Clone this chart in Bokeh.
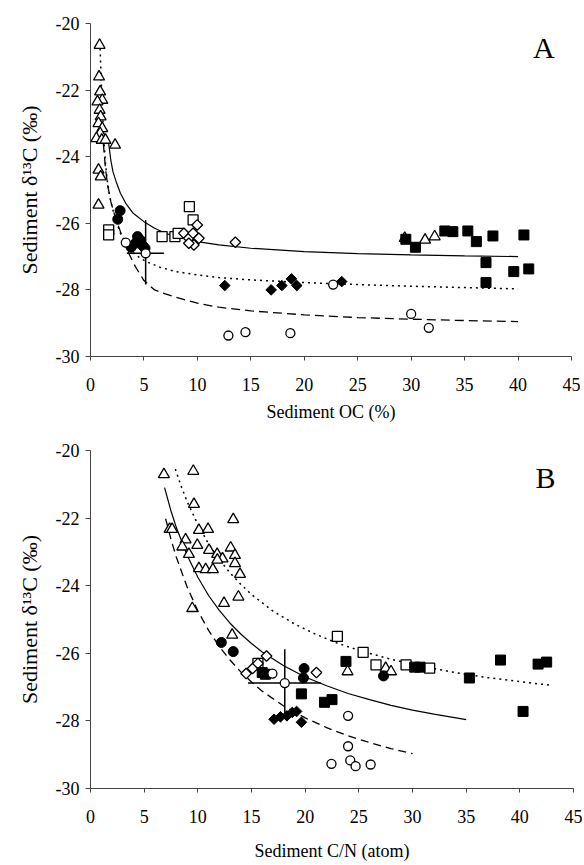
from bokeh.plotting import figure
from bokeh.layouts import column
from bokeh.models import Range1d, FixedTicker, Label
from bokeh.embed import file_html
from bokeh.resources import INLINE

FONT = "Liberation Serif"

# ---------------- tick labels ----------------
x_ticks = [0, 5, 10, 15, 20, 25, 30, 35, 40, 45]
x_tick_labels = ["0", "5", "10", "15", "20", "25", "30", "35", "40", "45"]
y_ticks = [-30, -28, -26, -24, -22, -20]
y_tick_labels = ["-30", "-28", "-26", "-24", "-22", "-20"]

# ---------------- Panel A : d13C vs OC (%) ----------------
A_tri_x = [0.85, 0.8, 0.9, 1.1, 0.65, 0.85, 0.95, 0.75, 1.1, 0.9, 0.55, 1.05, 1.4, 2.3, 0.75, 0.95, 0.75, 29.4, 31.3, 32.2]
A_tri_y = [-20.65, -21.6, -22.05, -22.3, -22.35, -22.6, -22.8, -23.0, -23.15, -23.3, -23.45, -23.5, -23.5, -23.65, -24.4, -24.6, -25.45, -26.45, -26.5, -26.4]

A_osq_x = [1.7, 1.7, 6.7, 7.9, 8.2, 9.25, 9.6]
A_osq_y = [-26.2, -26.35, -26.4, -26.4, -26.3, -25.5, -25.9]

A_odia_x = [8.74, 9.2, 9.6, 9.98, 10.14, 9.67, 9.2, 13.55]
A_odia_y = [-26.3, -26.45, -26.3, -26.05, -26.45, -26.65, -26.6, -26.57]

A_fcir_x = [2.77, 2.55, 4.4, 4.65, 4.2, 3.8, 4.9, 5.1]
A_fcir_y = [-25.62, -25.88, -26.4, -26.5, -26.6, -26.72, -26.68, -26.75]

A_ocir_x = [3.3, 5.16, 12.9, 14.5, 18.7, 22.7, 30.0, 31.65]
A_ocir_y = [-26.58, -26.9, -29.37, -29.27, -29.3, -27.84, -28.72, -29.14]

A_fdia_x = [12.56, 16.9, 17.9, 18.8, 19.3, 23.5]
A_fdia_y = [-27.87, -28.0, -27.87, -27.67, -27.87, -27.75]

A_fsq_x = [29.5, 30.4, 33.15, 33.9, 35.3, 36.1, 37.65, 37.0, 37.0, 39.6, 40.55, 41.0]
A_fsq_y = [-26.48, -26.72, -26.23, -26.25, -26.23, -26.55, -26.38, -27.18, -27.78, -27.45, -26.35, -27.37]

# error bars of the mean (open circle)
A_err_x = 5.16
A_err_y = -26.9
A_err_xlo, A_err_xhi = 3.4, 6.87
A_err_ylo, A_err_yhi = -27.84, -25.9

# curves
A_solid_x = [1.7, 1.9, 2.1, 2.4, 2.8, 3.3, 4, 5, 6, 7, 8, 10, 12, 15, 20, 25, 30, 35, 40]
A_solid_y = [-23.6, -24.1, -24.45, -24.75, -25.1, -25.4, -25.7, -25.95, -26.15, -26.3, -26.4, -26.55, -26.65, -26.75, -26.85, -26.91, -26.95, -26.98, -27.0]

A_dot_x = [0.9, 1.0, 1.1, 1.25, 1.4, 1.6, 1.9, 2.3, 2.8, 3.4, 4.2, 5.2, 6.5, 8, 10, 12, 15, 20, 25, 30, 35, 40]
A_dot_y = [-20.75, -21.7, -22.5, -23.5, -24.2, -24.8, -25.35, -25.85, -26.3, -26.65, -26.95, -27.15, -27.32, -27.45, -27.55, -27.63, -27.7, -27.78, -27.84, -27.89, -27.93, -27.97]

A_dash_x = [1.2, 1.4, 1.6, 1.9, 2.3, 2.8, 3.5, 4.2, 5.0, 6, 7, 8, 10, 12, 15, 20, 25, 30, 35, 40]
A_dash_y = [-23.6, -24.35, -24.85, -25.35, -25.8, -26.25, -26.85, -27.3, -27.72, -28.0, -28.12, -28.22, -28.4, -28.52, -28.63, -28.75, -28.83, -28.88, -28.92, -28.95]

# ---------------- Panel B : d13C vs C/N ----------------
B_tri_x = [6.84, 9.58, 9.64, 13.3, 7.37, 7.6, 10.1, 10.95, 8.86, 8.55, 9.95, 9.17, 11.04, 11.8, 12.3, 13.06, 13.46, 13.46, 13.93, 10.1, 10.73, 11.4, 11.82, 13.78, 12.44, 9.48, 13.2, 23.95, 27.5, 28.0]
B_tri_y = [-20.71, -20.61, -21.59, -22.04, -22.33, -22.33, -22.36, -22.33, -22.64, -22.85, -22.8, -23.07, -22.95, -23.07, -23.2, -22.88, -23.1, -23.34, -23.66, -23.49, -23.52, -23.52, -23.24, -24.33, -24.52, -24.67, -25.46, -26.54, -26.44, -26.54]

B_fcir_x = [12.19, 13.3, 19.9, 19.84, 27.3]
B_fcir_y = [-25.68, -25.95, -26.45, -26.73, -26.67]

B_odia_x = [14.5, 15.1, 15.6, 16.4, 21.05]
B_odia_y = [-26.6, -26.45, -26.3, -26.08, -26.57]

B_osq_x = [15.6, 23.0, 25.4, 26.6, 29.4, 31.6]
B_osq_y = [-26.3, -25.5, -25.97, -26.34, -26.34, -26.44]

B_fsq_x = [16.0, 16.3, 19.65, 21.8, 22.5, 23.8, 30.2, 30.7, 35.3, 38.2, 40.3, 41.7, 42.5]
B_fsq_y = [-26.57, -26.62, -27.2, -27.45, -27.37, -26.24, -26.41, -26.41, -26.73, -26.2, -27.72, -26.32, -26.26]

B_ocir_x = [18.1, 16.95, 24.0, 24.0, 22.45, 24.2, 24.7, 26.1]
B_ocir_y = [-26.88, -26.6, -27.85, -28.75, -29.27, -29.17, -29.34, -29.29]

B_fdia_x = [17.1, 17.7, 18.3, 18.8, 19.2, 19.65]
B_fdia_y = [-27.95, -27.88, -27.85, -27.75, -27.72, -28.04]

B_err_x = 18.1
B_err_y = -26.88
B_err_xlo, B_err_xhi = 14.67, 21.46
B_err_ylo, B_err_yhi = -27.82, -25.88

B_solid_x = [6.9, 7.5, 8, 9, 10, 11, 12, 13, 14, 15, 16, 18, 20, 22, 24, 26, 28, 30, 32, 35]
B_solid_y = [-21.1, -21.79, -22.28, -23.1, -23.75, -24.29, -24.73, -25.11, -25.43, -25.71, -25.96, -26.37, -26.7, -26.96, -27.19, -27.37, -27.54, -27.68, -27.8, -27.96]

B_dot_x = [7.9, 8.5, 9, 10, 11, 12, 13, 14, 15, 17, 19, 21, 23, 25, 28, 31, 34, 37, 40, 43]
B_dot_y = [-20.55, -21.1, -21.51, -22.19, -22.76, -23.23, -23.62, -23.96, -24.26, -24.75, -25.13, -25.44, -25.7, -25.91, -26.18, -26.39, -26.57, -26.72, -26.84, -26.95]

B_dash_x = [7, 7.5, 8, 9, 10, 11, 12, 13, 14, 15, 16, 18, 20, 22, 24, 26, 28, 30]
B_dash_y = [-22.02, -22.63, -23.16, -24.04, -24.74, -25.32, -25.8, -26.2, -26.55, -26.85, -27.12, -27.56, -27.91, -28.2, -28.44, -28.64, -28.82, -28.97]


def make_fig(width, height, border_left, border_right, border_top, border_bottom, xlabel, x_label_standoff):
    p = figure(width=width, height=height, output_backend="svg", toolbar_location=None,
               x_range=Range1d(0, 45), y_range=Range1d(-30, -20),
               min_border_left=border_left, min_border_right=border_right,
               min_border_top=border_top, min_border_bottom=border_bottom)
    p.grid.visible = False
    p.outline_line_color = None
    p.background_fill_color = "white"
    p.border_fill_color = "white"
    for ax in (p.xaxis[0], p.yaxis[0]):
        ax.axis_line_color = "#444444"
        ax.axis_line_width = 1
        ax.major_tick_line_color = "#444444"
        ax.major_tick_in = 0
        ax.minor_tick_line_color = None
        ax.major_label_text_font = FONT
        ax.major_label_text_font_size = "18px"
        ax.major_label_text_color = "black"
        ax.axis_label_text_font = FONT
        ax.axis_label_text_font_style = "normal"
        ax.axis_label_text_color = "black"
    xa = p.xaxis[0]
    xa.ticker = FixedTicker(ticks=x_ticks)
    xa.major_label_overrides = {t: s for t, s in zip(x_ticks, x_tick_labels)}
    xa.major_tick_out = 4
    xa.major_label_standoff = 17
    xa.axis_label = xlabel
    xa.axis_label_text_font_size = "18px"
    xa.axis_label_standoff = x_label_standoff
    ya = p.yaxis[0]
    ya.ticker = FixedTicker(ticks=y_ticks)
    ya.major_label_overrides = {t: s for t, s in zip(y_ticks, y_tick_labels)}
    ya.major_tick_out = 5
    ya.major_label_standoff = 6
    ya.axis_label = "Sediment δ¹³C (‰)"
    ya.axis_label_text_font_size = "22px"
    ya.axis_label_standoff = 11
    return p


def add_markers(p, d):
    p.scatter(d["tri"][0], d["tri"][1], marker="triangle", size=11, fill_color="white",
              line_color="black", line_width=1.3)
    p.scatter(d["osq"][0], d["osq"][1], marker="square", size=10, fill_color="white",
              line_color="black", line_width=1.3)
    p.scatter(d["odia"][0], d["odia"][1], marker="square", angle=0.7854, size=7.5,
              fill_color="white", line_color="black", line_width=1.3)
    p.scatter(d["fcir"][0], d["fcir"][1], marker="circle", size=10, fill_color="black", line_color="black")
    p.scatter(d["fdia"][0], d["fdia"][1], marker="square", angle=0.7854, size=7.5,
              fill_color="black", line_color="black")
    p.scatter(d["fsq"][0], d["fsq"][1], marker="square", size=10, fill_color="black", line_color="black")
    p.scatter(d["ocir"][0], d["ocir"][1], marker="circle", size=9, fill_color="white",
              line_color="black", line_width=1.3)


# ----- panel A -----
pA = make_fig(580, 424, 87, 9, 23, 67, "Sediment OC (%)", 8)
pA.line(A_solid_x, A_solid_y, line_color="black", line_width=1.2)
pA.line(A_dot_x, A_dot_y, line_color="black", line_width=1.5, line_dash="2 4")
pA.line(A_dash_x, A_dash_y, line_color="black", line_width=1.3, line_dash="9 5")
pA.segment([A_err_xlo, A_err_x], [A_err_y, A_err_ylo], [A_err_xhi, A_err_x], [A_err_y, A_err_yhi],
           line_color="black", line_width=1.5)
add_markers(pA, {"tri": (A_tri_x, A_tri_y), "osq": (A_osq_x, A_osq_y), "odia": (A_odia_x, A_odia_y),
                 "fcir": (A_fcir_x, A_fcir_y), "fdia": (A_fdia_x, A_fdia_y), "fsq": (A_fsq_x, A_fsq_y),
                 "ocir": (A_ocir_x, A_ocir_y)})
pA.add_layout(Label(x=42.4, y=-20.72, text="A", text_font=FONT, text_font_size="30px",
                    text_align="center", text_baseline="middle", text_color="black"))

# ----- panel B -----
pB = make_fig(582, 439, 90, 8, 26, 74, "Sediment C/N (atom)", 15)
pB.line(B_solid_x, B_solid_y, line_color="black", line_width=1.2)
pB.line(B_dot_x, B_dot_y, line_color="black", line_width=1.5, line_dash="2 4")
pB.line(B_dash_x, B_dash_y, line_color="black", line_width=1.3, line_dash="8 5")
pB.segment([B_err_xlo, B_err_x], [B_err_y, B_err_ylo], [B_err_xhi, B_err_x], [B_err_y, B_err_yhi],
           line_color="black", line_width=1.5)
add_markers(pB, {"tri": (B_tri_x, B_tri_y), "osq": (B_osq_x, B_osq_y), "odia": (B_odia_x, B_odia_y),
                 "fcir": (B_fcir_x, B_fcir_y), "fdia": (B_fdia_x, B_fdia_y), "fsq": (B_fsq_x, B_fsq_y),
                 "ocir": (B_ocir_x, B_ocir_y)})
pB.add_layout(Label(x=42.4, y=-20.8, text="B", text_font=FONT, text_font_size="30px",
                    text_align="center", text_baseline="middle", text_color="black"))

layout = column(pA, pB, spacing=0)
open("out.html", "w").write(file_html(layout, INLINE))
